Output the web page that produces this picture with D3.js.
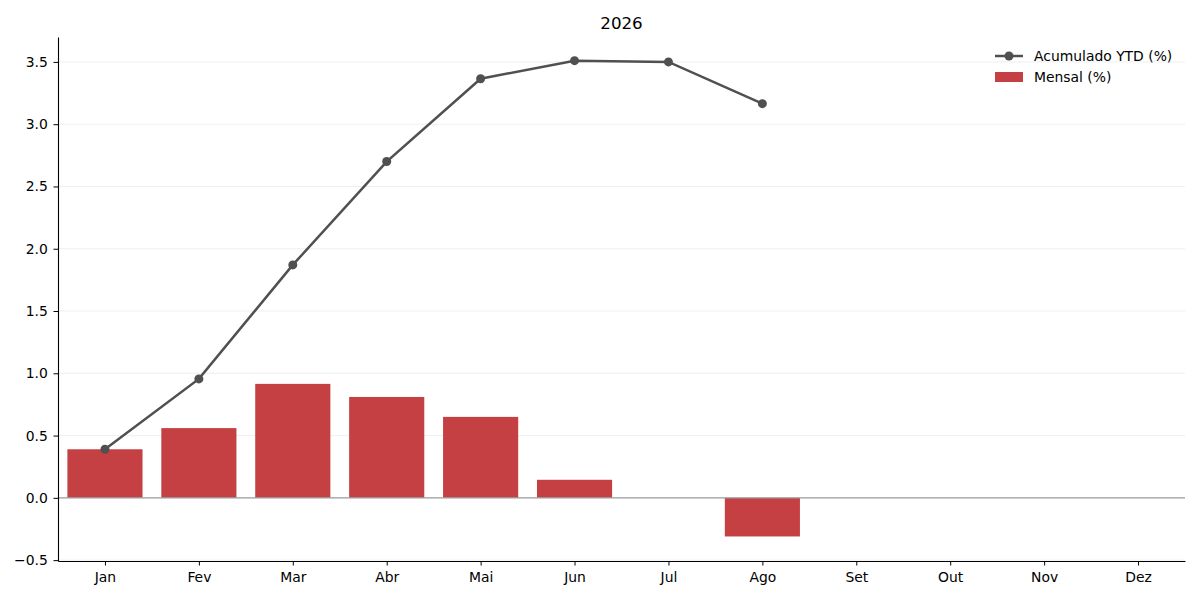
<!DOCTYPE html>
<html>
<head>
<meta charset="utf-8">
<script src="https://cdn.jsdelivr.net/npm/d3@7"></script>
<style>
  body { margin: 0; background: #fff; }
  svg text { font-family: "DejaVu Sans", sans-serif; }
</style>
</head>
<body>
<script>
// dados
var months = ['Jan', 'Fev', 'Mar', 'Abr', 'Mai', 'Jun', 'Jul', 'Ago', 'Set', 'Out', 'Nov', 'Dez'];
var mensal = [0.39, 0.56, 0.915, 0.81, 0.65, 0.145, 0, -0.31];
var ytd = [0.39, 0.955, 1.87, 2.70, 3.365, 3.51, 3.50, 3.165];
var yTicks = [-0.5, 0, 0.5, 1, 1.5, 2, 2.5, 3, 3.5];
var title = '2026';

var W = 1200, H = 600;
var m = { left: 58, right: 15, top: 37, bottom: 39 };

var svg = d3.select('body').append('svg')
  .attr('width', W)
  .attr('height', H);

var x = d3.scaleLinear()
  .domain([-0.5, 11.5])
  .range([m.left, W - m.right]);

var y = d3.scaleLinear()
  .domain([-0.507, 3.70])
  .range([H - m.bottom, m.top]);

var bw = x(0.4) - x(-0.4);

// grade
svg.append('g')
  .selectAll('line')
  .data(yTicks)
  .enter()
    .append('line')
      .attr('x1', m.left).attr('x2', W - m.right)
      .attr('y1', function(d){ return y(d); })
      .attr('y2', function(d){ return y(d); })
      .attr('stroke', '#ebebeb')
      .attr('stroke-width', 0.8);

// barras
svg.append('g')
  .selectAll('rect')
  .data(mensal)
  .enter()
    .append('rect')
      .attr('x', function(d, i){ return x(i) - bw / 2; })
      .attr('y', function(d){ return y(Math.max(0, d)); })
      .attr('width', bw)
      .attr('height', function(d){ return Math.abs(y(d) - y(0)); })
      .attr('fill', '#c44043');

// linha zero
svg.append('line')
  .attr('x1', m.left).attr('x2', W - m.right)
  .attr('y1', y(0)).attr('y2', y(0))
  .attr('stroke', '#9e9e9e')
  .attr('stroke-width', 1.2);

// acumulado
var line = d3.line()
  .x(function(d, i){ return x(i); })
  .y(function(d){ return y(d); });

svg.append('path')
  .datum(ytd)
  .attr('d', line)
  .attr('fill', 'none')
  .attr('stroke', '#505050')
  .attr('stroke-width', 2.5);

svg.append('g')
  .selectAll('circle')
  .data(ytd)
  .enter()
    .append('circle')
      .attr('cx', function(d, i){ return x(i); })
      .attr('cy', function(d){ return y(d); })
      .attr('r', 4.5)
      .attr('fill', '#505050');

// eixos
var xAxis = d3.axisBottom(x)
  .tickValues(d3.range(12))
  .tickFormat(function(i){ return months[i]; })
  .tickSize(4.5)
  .tickSizeOuter(0);

var yAxis = d3.axisLeft(y)
  .tickValues(yTicks)
  .tickFormat(function(d){ return d3.format('.1f')(d).replace('-', '\u2212'); })
  .tickSize(4.5)
  .tickSizeOuter(0);

var gx = svg.append('g')
  .attr('transform', 'translate(0,' + (H - m.bottom) + ')')
  .call(xAxis);

var gy = svg.append('g')
  .attr('transform', 'translate(' + m.left + ',0)')
  .call(yAxis);

[gx, gy].forEach(function(g){
  g.selectAll('text').attr('font-size', 13.9).attr('fill', '#000');
  g.selectAll('line').attr('stroke', '#000').attr('stroke-width', 1);
  g.select('.domain').attr('stroke', '#000').attr('stroke-width', 1.1);
});
gx.selectAll('text').attr('dy', '0.95em');
gy.selectAll('text').attr('dx', '-0.2em');

// titulo
svg.append('text')
  .attr('x', (m.left + W - m.right) / 2)
  .attr('y', 29)
  .attr('text-anchor', 'middle')
  .attr('font-size', 16.7)
  .text(title);

// legenda
var legend = svg.append('g')
  .attr('transform', 'translate(995,56)');

legend.append('line')
  .attr('x1', 0).attr('x2', 28)
  .attr('y1', 0).attr('y2', 0)
  .attr('stroke', '#505050')
  .attr('stroke-width', 2.5);
legend.append('circle')
  .attr('cx', 14).attr('cy', 0).attr('r', 4.5)
  .attr('fill', '#505050');
legend.append('text')
  .attr('x', 39).attr('y', 5)
  .attr('font-size', 13.9)
  .text('Acumulado YTD (%)');

legend.append('rect')
  .attr('x', 0).attr('y', 16)
  .attr('width', 28).attr('height', 10)
  .attr('fill', '#c44043');
legend.append('text')
  .attr('x', 39).attr('y', 26)
  .attr('font-size', 13.9)
  .text('Mensal (%)');
</script>
</body>
</html>
